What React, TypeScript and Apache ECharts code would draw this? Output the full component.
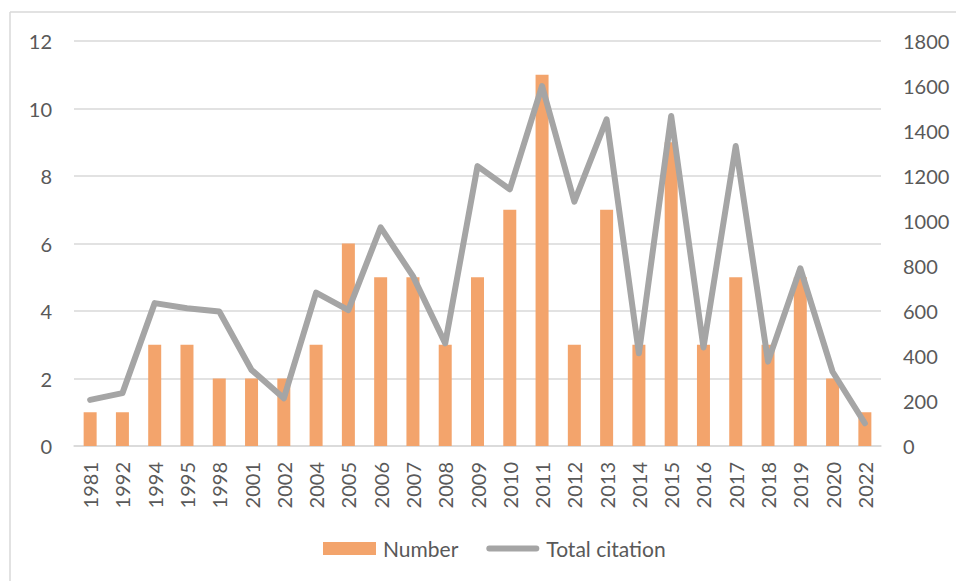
import React, { useEffect, useRef } from "react";
import * as echarts from "echarts";

const categories = ["1981","1992","1994","1995","1998","2001","2002","2004","2005","2006","2007","2008","2009","2010","2011","2012","2013","2014","2015","2016","2017","2018","2019","2020","2022"];
const numberValues = [1,1,3,3,2,2,2,3,6,5,5,3,5,7,11,3,7,3,9,3,5,3,5,2,1];
const citationValues = [205,235,635,612,598,338,212,682,604,972,755,456,1244,1141,1600,1086,1452,412,1467,438,1333,375,790,330,101];
const seriesNames = ["Number", "Total citation"];

const FONT = "Lato, 'Open Sans', sans-serif";
const LABEL = "#595959";
const GRID = "#D9D9D9";
const BAR = "#F3A46C";
const LINE = "#A5A5A5";

export default function App() {
  const ref = useRef<HTMLDivElement>(null);
  useEffect(() => {
    if (!ref.current) return;
    const chart = echarts.init(ref.current, undefined, { renderer: "svg" });
    chart.setOption({
      animation: false,
      backgroundColor: "#ffffff",
      textStyle: { fontFamily: FONT },
      grid: { left: 74, right: 75, top: 41, bottom: 135 },
      graphic: [
        { type: "line", shape: { x1: 10, y1: 12, x2: 956, y2: 12 }, style: { stroke: GRID, lineWidth: 1.5 } },
        { type: "line", shape: { x1: 10, y1: 12, x2: 10, y2: 581 }, style: { stroke: GRID, lineWidth: 1.5 } },
      ],
      legend: {
        left: 318,
        top: 533,
        itemWidth: 53,
        itemHeight: 13,
        itemGap: 28,
        textStyle: { fontFamily: FONT, fontSize: 21, color: LABEL, padding: [0, 0, 0, 2] },
        data: [
          { name: seriesNames[0], icon: "rect", itemStyle: { color: BAR } },
          {
            name: seriesNames[1],
            icon: "path://M3,0 L50,0 A3,3 0 0 1 50,6 L3,6 A3,3 0 0 1 3,0 Z",
            itemStyle: { color: LINE, borderWidth: 0 },
          },
        ],
      },
      xAxis: {
        type: "category",
        data: categories,
        axisLine: { show: true, lineStyle: { color: GRID, width: 1.5 } },
        axisTick: { show: false },
        axisLabel: { rotate: 90, margin: 16, fontFamily: FONT, fontSize: 20, color: LABEL, interval: 0 },
      },
      yAxis: [
        {
          type: "value",
          min: 0,
          max: 12,
          interval: 2,
          axisLine: { show: false },
          axisTick: { show: false },
          splitLine: { lineStyle: { color: GRID, width: 1.5 } },
          axisLabel: { margin: 22, fontFamily: FONT, fontSize: 20, color: LABEL },
        },
        {
          type: "value",
          min: 0,
          max: 1800,
          interval: 200,
          position: "right",
          axisLine: { show: false },
          axisTick: { show: false },
          splitLine: { show: false },
          axisLabel: { margin: 22, fontFamily: FONT, fontSize: 20, color: LABEL, formatter: (v: number) => String(v) },
        },
      ],
      series: [
        {
          name: seriesNames[0],
          type: "bar",
          data: numberValues,
          yAxisIndex: 0,
          barWidth: 13,
          itemStyle: { color: BAR },
        },
        {
          name: seriesNames[1],
          type: "line",
          data: citationValues,
          yAxisIndex: 1,
          symbol: "none",
          lineStyle: { color: LINE, width: 6, cap: "round", join: "round" },
          itemStyle: { color: LINE },
        },
      ],
    });
    return () => chart.dispose();
  }, []);
  return <div ref={ref} style={{ position: "absolute", left: 0, top: 0, width: 956, height: 581 }} />;
}
